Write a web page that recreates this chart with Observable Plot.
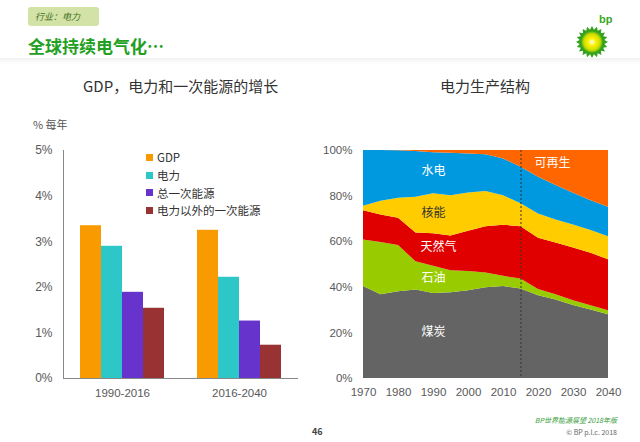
<!DOCTYPE html>
<html><head><meta charset="utf-8">
<script src="https://cdn.jsdelivr.net/npm/d3@7"></script>
<script src="https://cdn.jsdelivr.net/npm/@observablehq/plot@0.6"></script>
<style>
html,body{margin:0;padding:0;background:#fff;}
#page{position:relative;width:640px;height:442px;overflow:hidden;font-family:"Noto Sans CJK SC","Liberation Sans",sans-serif;background:#fff;}
.abs{position:absolute;white-space:nowrap;}
#tag{left:28px;top:7px;width:71px;height:19px;background:#d3e2a6;border-radius:3px;font-size:9px;font-style:italic;color:#3f6f1f;line-height:19px;padding-left:7px;box-sizing:border-box;}
#title{left:28px;top:33px;font-size:17px;font-weight:bold;color:#22a022;}
#shade{left:0;top:58px;width:640px;height:6px;background:linear-gradient(#f0f0f0,#fff);}
#t1{left:83px;top:75px;font-size:15px;color:#333;}
#t2{left:440px;top:75px;font-size:15px;color:#333;}
#unit{left:33px;top:116px;font-size:11px;color:#555;}
#leftChart,#leftAxes{left:0;top:130px;}
#leftAxes{pointer-events:none;}
#rightChart{left:300px;top:130px;}
#legend{left:146px;top:149px;}
.lg-swatch{height:16.7px;font-size:11.5px;color:#333;}
.lg-swatch svg{margin-right:4px !important;}
#pg{left:312px;top:425px;font-size:9px;font-weight:bold;color:#444;}
#src{right:23px;top:415px;font-size:7px;font-style:italic;color:#3aa040;}
#copy{right:23px;top:427px;font-size:7px;color:#666;}
#logo{left:568px;top:8px;}
</style></head><body><div id="page">
<div id="tag" class="abs">行业：电力</div>
<div id="title" class="abs">全球持续电气化…</div>
<div id="shade" class="abs"></div>
<div id="t1" class="abs">GDP，电力和一次能源的增长</div>
<div id="t2" class="abs">电力生产结构</div>
<div id="unit" class="abs">% 每年</div>
<div id="leftChart" class="abs"></div>
<div id="leftAxes" class="abs"></div>
<div id="legend" class="abs"></div>
<div id="rightChart" class="abs"></div>
<div id="pg" class="abs">46</div>
<div id="src" class="abs">BP世界能源展望 2018年版</div>
<div id="copy" class="abs">© BP p.l.c. 2018</div>
<svg id="logo" class="abs" width="50" height="52">
  <defs><radialGradient id="sun" cx="50%" cy="50%" r="50%">
    <stop offset="0%" stop-color="#ffffff"/><stop offset="35%" stop-color="#fff200"/>
    <stop offset="75%" stop-color="#c8dc00"/><stop offset="100%" stop-color="#3aa61e"/></radialGradient></defs>
  <text x="31" y="15" font-size="11" font-weight="bold" fill="#3aa61e" font-family="Liberation Sans">bp</text>
  <path id="petals" fill="#33a11c"></path>
  <circle cx="24" cy="34" r="11" fill="url(#sun)"/>
</svg>
</div>
<script>
// ---------- Left chart data ----------
const periods = ["1990-2016", "2016-2040"];
const series = ["GDP", "电力", "总一次能源", "电力以外的一次能源"];
const growth1990_2016 = [3.35, 2.9, 1.89, 1.54];
const growth2016_2040 = [3.25, 2.22, 1.26, 0.73];
const barColors = ["#f89a00", "#2ec7c7", "#6633cc", "#993333"];
const yTicksLeft = [0, 1, 2, 3, 4, 5];

// ---------- Right chart data ----------
const years = [1970,1975,1980,1985,1990,1995,2000,2005,2010,2015,2020,2025,2030,2035,2040];
const sources = ["煤炭", "石油", "天然气", "核能", "水电", "可再生"];
const coal   = [40.4,36.7,38.0,38.8,37.3,37.6,38.5,39.8,40.3,39.2,36.3,34.4,32.0,30.0,28.0];
const oil    = [20.4,23.0,20.3,12.4,11.9, 9.7, 8.4, 6.5, 4.5, 4.4, 2.7, 2.3, 2.1, 1.9, 1.7];
const gas    = [12.8,12.0,12.0,12.6,14.3,15.2,17.7,20.3,22.4,23.0,22.5,22.7,23.1,23.0,22.4];
const nuclear= [ 1.9, 6.0, 8.8,15.7,17.5,17.7,16.8,15.4,13.0,10.0,10.7,10.1,10.1,10.0,10.1];
const hydro  = [24.5,22.3,20.8,20.1,18.0,18.6,17.1,16.1,16.1,16.1,16.1,15.1,14.0,13.1,12.9];
const renew  = [ 0.0, 0.0, 0.1, 0.4, 1.0, 1.2, 1.5, 1.9, 3.7, 7.3,11.7,15.4,18.7,22.0,24.9];
const areaColors = ["#646464", "#99cc00", "#e00000", "#ffcc00", "#0099e0", "#ff6600"];
const forecastStart = 2015;
const xTicksRight = [1970,1980,1990,2000,2010,2020,2030,2040];
const yTicksRight = [0,20,40,60,80,100];
const labelText = ["水电", "核能", "天然气", "石油", "煤炭", "可再生"];
const labelYear = [1990, 1990, 1991.4, 1990, 1990, 2024];
const labelPct  = [90.8, 72.3, 57.4, 43.8, 20.5, 94.3];
const labelColor= ["#ffffff", "#333333", "#ffffff", "#ffffff", "#ffffff", "#ffffff"];

const axisFont = {fontFamily: '"Liberation Sans","Noto Sans CJK SC",sans-serif', fontSize: "11px", color: "#595959", background: "transparent", overflow: "visible"};
const leftDims = {width: 310, height: 280, marginLeft: 63, marginRight: 12, marginTop: 20, marginBottom: 32};

// Left: grouped bars (faceted by period)
const barData = periods.flatMap((p, i) => series.map((s, j) => ({
  period: p, series: s, value: (i === 0 ? growth1990_2016 : growth2016_2040)[j]
})));
const left = Plot.plot({
  ...leftDims,
  style: axisFont,
  fx: {domain: periods, paddingInner: 0.268, paddingOuter: 0.134, label: null},
  x: {domain: series, axis: null, padding: 0},
  y: {domain: [0, 5], axis: null, label: null},
  color: {domain: series, range: barColors},
  marks: [
    Plot.barY(barData, {fx: "period", x: "series", y: "value", fill: "series", inset: 0}),
    Plot.axisFx({anchor: "bottom", tickSize: 0, tickPadding: 10, label: null, fontSize: 11.5})
  ]
});
document.getElementById("leftChart").appendChild(left);

// Left: continuous axes overlay (same y scale, unfaceted)
const leftAxes = Plot.plot({
  ...leftDims,
  style: axisFont,
  y: {domain: [0, 5], label: null},
  marks: [
    Plot.ruleY([0], {stroke: "#888"}),
    Plot.frame({anchor: "left", stroke: "#888"}),
    Plot.axisY({ticks: yTicksLeft, tickFormat: d => d + "%", tickSize: 0, tickPadding: 11, label: null, fontSize: 12})
  ]
});
document.getElementById("leftAxes").appendChild(leftAxes);

document.getElementById("legend").appendChild(
  left.legend("color", {columns: 1, swatchSize: 7, className: "lg", style: {fontFamily: '"Noto Sans CJK SC","Liberation Sans",sans-serif'}})
);

// Right: stacked area shares
const shareArrays = [coal, oil, gas, nuclear, hydro, renew];
const areaData = sources.flatMap((s, i) => years.map((yr, j) => ({source: s, year: yr, share: shareArrays[i][j]})));
const labels = labelText.map((t, i) => ({text: t, year: labelYear[i], pct: labelPct[i], color: labelColor[i]}));
const right = Plot.plot({
  width: 330, height: 280,
  marginLeft: 63, marginRight: 22, marginTop: 20, marginBottom: 32,
  style: axisFont,
  x: {domain: [1970, 2040], label: null},
  y: {domain: [0, 100], label: null},
  color: {domain: sources, range: areaColors},
  marks: [
    Plot.areaY(areaData, {x: "year", y: "share", z: "source", fill: "source", order: sources}),
    Plot.ruleX([forecastStart], {stroke: "#333", strokeDasharray: "2,2", strokeWidth: 1}),
    Plot.text(labels, {x: "year", y: "pct", text: "text", fill: "color", fontSize: 12,
      fontFamily: '"Noto Sans CJK SC",sans-serif'}),
    Plot.axisX({ticks: xTicksRight, tickFormat: d => String(d), tickSize: 0, tickPadding: 9, label: null, fontSize: 11.5}),
    Plot.axisY({ticks: yTicksRight, tickFormat: d => d + "%", tickSize: 0, tickPadding: 11, label: null, fontSize: 11.5})
  ]
});
document.getElementById("rightChart").appendChild(right);

// Logo petals (decoration)
const petals = [];
for (let k = 0; k < 40; k++) {
  const a = k * Math.PI / 20;
  const r = k % 2 === 0 ? 16 : 12.5;
  petals.push([24 + r * Math.cos(a), 34 + r * Math.sin(a)]);
}
document.getElementById("petals").setAttribute("d", "M" + petals.map(p => p.join(",")).join("L") + "Z");
</script>
</body></html>
